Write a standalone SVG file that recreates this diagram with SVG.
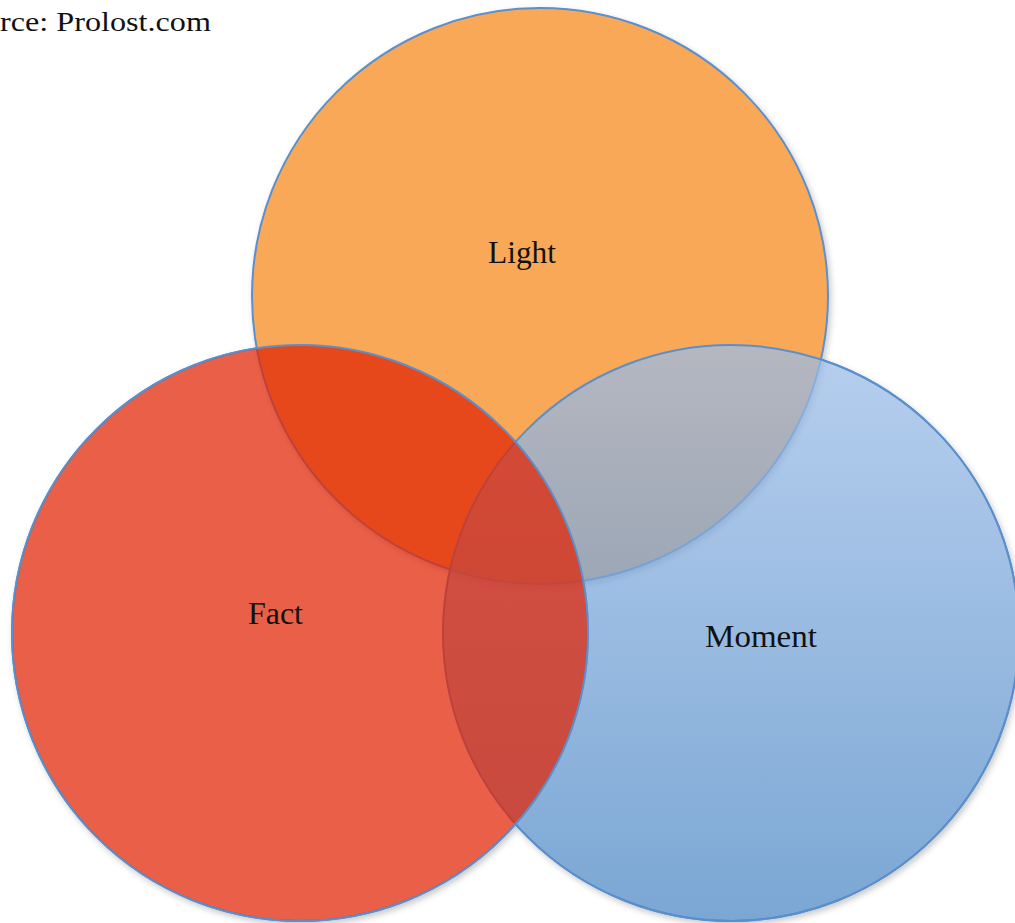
<svg xmlns="http://www.w3.org/2000/svg" width="1015" height="923" viewBox="0 0 1015 923">
  <defs>
    <linearGradient id="blueGrad" x1="0" y1="0" x2="0" y2="1">
      <stop offset="0" stop-color="#9cbde8"/>
      <stop offset="1" stop-color="#4a86c4"/>
    </linearGradient>
    <filter id="shadow" x="-10%" y="-10%" width="120%" height="120%">
      <feDropShadow dx="2" dy="3" stdDeviation="3" flood-color="#000" flood-opacity="0.22"/>
    </filter>
  </defs>
  <style>
    .circle { stroke: #5b8fcb; stroke-width: 2; }
    .label { font-family: "Liberation Serif", "DejaVu Serif", serif; font-size: 31px; fill: #111; text-anchor: middle; }
    .source { font-family: "Liberation Serif", "DejaVu Serif", serif; font-size: 28px; fill: #111; }
  </style>
  <rect width="1015" height="923" fill="#ffffff"/>
  <g id="source">
    <text class="source" x="-50" y="31" textLength="261" lengthAdjust="spacingAndGlyphs">Source: Prolost.com</text>
  </g>
  <g id="shadows" filter="url(#shadow)">
    <circle cx="731" cy="633" r="288" fill="#ffffff" stroke="#5b8fcb" stroke-width="2"/>
    <circle cx="300" cy="633" r="288" fill="#ffffff" stroke="#5b8fcb" stroke-width="2"/>
  </g>
  <g id="light">
    <circle class="circle" cx="540" cy="296" r="288" fill="#f8a857" filter="url(#shadow)"/>
  </g>
  <g id="moment">
    <circle class="circle" cx="731" cy="633" r="288" fill="url(#blueGrad)" fill-opacity="0.73"/>
  </g>
  <g id="fact">
    <circle class="circle" cx="300" cy="633" r="288" fill="#e12505" fill-opacity="0.735"/>
  </g>
  <g id="labels">
    <text class="label" x="522" y="263" textLength="68" lengthAdjust="spacingAndGlyphs">Light</text>
    <text class="label" x="275.5" y="624" textLength="55" lengthAdjust="spacingAndGlyphs">Fact</text>
    <text class="label" x="761" y="647" textLength="112" lengthAdjust="spacingAndGlyphs">Moment</text>
  </g>
  <g id="connectors"></g>
</svg>
